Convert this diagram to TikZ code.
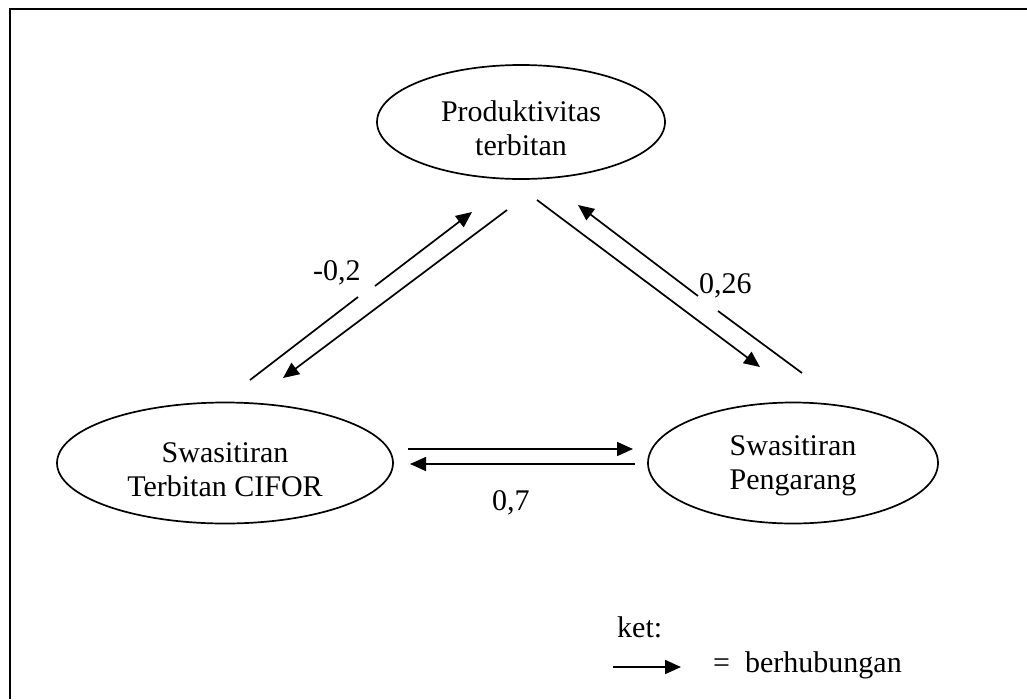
\documentclass[tikz,border=0pt]{standalone}
\usepackage{fontspec}
\setmainfont{Liberation Serif}
\usetikzlibrary{shapes.geometric,arrows.meta}
\newcommand\ovaltext[2]{\raisebox{-#1}[0pt][0pt]{\begin{tabular}{@{}c@{}}#2\end{tabular}}}
\begin{document}
\begin{tikzpicture}[x=1pt,y=-1pt,
  oval/.style={draw, ellipse, line width=1.7pt, inner sep=0pt, font=\fontsize{30}{34}\selectfont},
  arr/.style={line width=1.7pt, -{Triangle[length=16pt,width=14pt]}},
  ln/.style={line width=1.7pt},
  lbl/.style={font=\fontsize{30}{34}\selectfont, inner sep=0pt}]
\useasboundingbox (0,0) rectangle (1027,699);
\draw[line width=2pt] (9.5,699) -- (9.5,8.5) -- (1027,8.5);

% nodes
\node[oval, minimum width=288pt, minimum height=114pt] (prod) at (521,122) {\ovaltext{15.5pt}{Produktivitas\\terbitan}};
\node[oval, minimum width=336pt, minimum height=121pt] (cifor) at (225,463) {\ovaltext{15.5pt}{Swasitiran\\Terbitan CIFOR}};
\node[oval, minimum width=290pt, minimum height=121pt] (peng) at (793,463) {\ovaltext{9pt}{Swasitiran\\Pengarang}};

% left pair
\coordinate (l1a) at (250,380);
\coordinate (l1b) at (358,297);
\coordinate (l1c) at (375,286);
\coordinate (l1d) at (472,212);
\coordinate (l2a) at (507,210);
\coordinate (l2b) at (283,378);
\draw[ln] (l1a) -- (l1b);
\draw[arr] (l1c) -- (l1d);
\draw[arr] (l2a) -- (l2b);
\node[lbl, anchor=base west] (lab1) at (313,280) {-0,2};

% right pair
\coordinate (r1a) at (537,200);
\coordinate (r1b) at (760,367);
\coordinate (r2a) at (802,373);
\coordinate (r2b) at (718,311);
\coordinate (r2c) at (698,296);
\coordinate (r2d) at (578,205);
\draw[arr] (r1a) -- (r1b);
\draw[ln] (r2a) -- (r2b);
\draw[arr] (r2c) -- (r2d);
\node[lbl, anchor=base west] (lab2) at (699,293) {0,26};

% horizontal pair
\coordinate (h1a) at (408,449);
\coordinate (h1b) at (633,449);
\coordinate (h2a) at (635,464);
\coordinate (h2b) at (410,464);
\draw[arr] (h1a) -- (h1b);
\draw[arr] (h2a) -- (h2b);
\node[lbl, anchor=base west] (lab3) at (492,510) {0,7};

% legend
\node[lbl, anchor=base west] (ket) at (617,637) {ket:};
\coordinate (ka) at (613,667);
\coordinate (kb) at (681,667);
\draw[arr] (ka) -- (kb);
\node[lbl, anchor=base west] (keth) at (713,672) {=\ \ berhubungan};
\end{tikzpicture}
\end{document}
